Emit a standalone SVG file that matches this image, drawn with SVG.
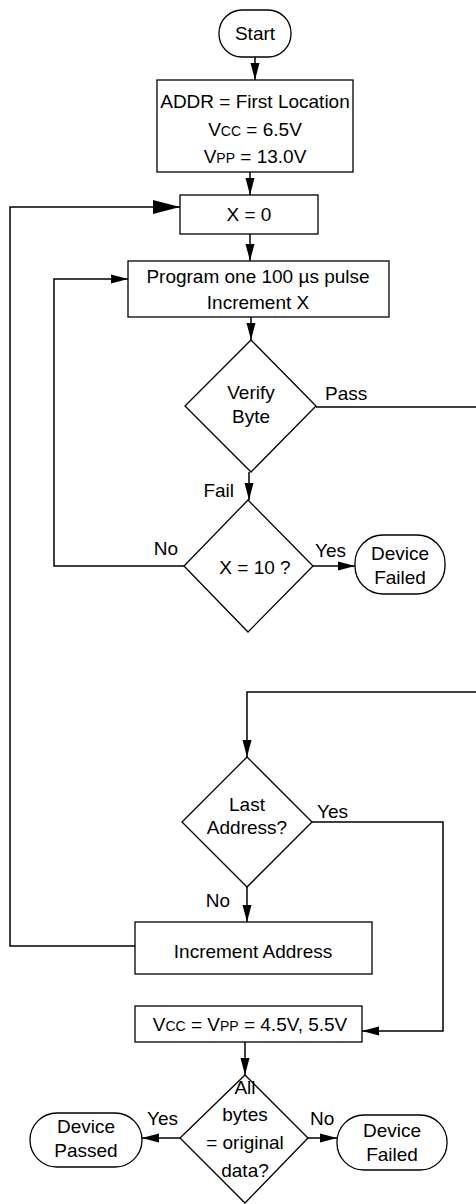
<svg xmlns="http://www.w3.org/2000/svg" width="476" height="1204" viewBox="0 0 476 1204">
<defs>
<style>
.s{fill:#fff;stroke:#000;stroke-width:1.3}
.c{fill:none;stroke:#000;stroke-width:1.5}
text{font-family:"Liberation Sans",Arial,sans-serif;font-size:19px;fill:#000}
.m{text-anchor:middle}
.e{text-anchor:end}
.sc{font-size:14px}
</style>
<marker id="a" markerUnits="userSpaceOnUse" markerWidth="18" markerHeight="10" refX="17" refY="5" orient="auto"><path d="M0,0.5 L17,5 L0,9.5 Z" fill="#000"/></marker>
<marker id="b" markerUnits="userSpaceOnUse" markerWidth="28" markerHeight="14" refX="27" refY="7" orient="auto"><path d="M0,0 L27,7 L0,14 Z" fill="#000"/></marker>
</defs>
<g id="connectors">
<path class="c" d="M255,57 V80" marker-end="url(#a)"/>
<path class="c" d="M250,172 V195" marker-end="url(#a)"/>
<path class="c" d="M250,234 V261" marker-end="url(#a)"/>
<path class="c" d="M251,317 V340" marker-end="url(#a)"/>
<path class="c" d="M316,407 H476"/>
<path class="c" d="M249,472 V500" marker-end="url(#a)"/>
<path class="c" d="M184,566 H54 V279 H128" marker-end="url(#a)"/>
<path class="c" d="M313,566 H355" marker-end="url(#a)"/>
<path class="c" d="M135,946 H10 V207 H180" marker-end="url(#b)"/>
<path class="c" d="M476,692 H247 V757" marker-end="url(#a)"/>
<path class="c" d="M312,822 H443 V1031 H362" marker-end="url(#a)"/>
<path class="c" d="M247,887 V922" marker-end="url(#a)"/>
<path class="c" d="M245,1042 V1075" marker-end="url(#a)"/>
<path class="c" d="M180,1138 H142" marker-end="url(#a)"/>
<path class="c" d="M308,1138 H337" marker-end="url(#a)"/>
<text x="325" y="400">Pass</text>
<text x="234" y="497" class="e">Fail</text>
<text x="178" y="555" class="e">No</text>
<text x="315" y="557">Yes</text>
<text x="317" y="818">Yes</text>
<text x="230" y="907" class="e">No</text>
<text x="178" y="1125" class="e">Yes</text>
<text x="310" y="1125">No</text>
</g>
<g id="start"><rect class="s" x="219" y="10" width="72" height="47" rx="23"/><text x="255" y="40" class="m">Start</text></g>
<g id="init"><rect class="s" x="157" y="80" width="196" height="92"/>
<text x="255" y="108" class="m">ADDR = First Location</text>
<text x="255" y="136" class="m">V<tspan class="sc">CC</tspan> = 6.5V</text>
<text x="255" y="163" class="m">V<tspan class="sc">PP</tspan> = 13.0V</text></g>
<g id="x0"><rect class="s" x="180" y="195" width="138" height="39"/><text x="249" y="221" class="m">X = 0</text></g>
<g id="program"><rect class="s" x="128" y="261" width="261" height="56"/>
<text x="258" y="283" class="m">Program one 100 µs pulse</text>
<text x="258" y="309" class="m">Increment X</text></g>
<g id="verify"><polygon class="s" points="251,340 316,406 251,472 185,406"/>
<text x="251" y="399" class="m">Verify</text><text x="251" y="423" class="m">Byte</text></g>
<g id="x10"><polygon class="s" points="248,500 313,566 248,632 184,566"/>
<text x="255" y="574" class="m">X = 10 ?</text></g>
<g id="failed1"><rect class="s" x="355" y="535" width="90" height="59" rx="28"/>
<text x="400" y="560" class="m">Device</text><text x="400" y="584" class="m">Failed</text></g>
<g id="last"><polygon class="s" points="247,757 312,822 247,887 182,822"/>
<text x="247" y="811" class="m">Last</text><text x="247" y="834" class="m">Address?</text></g>
<g id="incaddr"><rect class="s" x="135" y="922" width="237" height="52"/>
<text x="253" y="958" class="m">Increment Address</text></g>
<g id="vcc"><rect class="s" x="135" y="1006" width="227" height="36"/>
<text x="250" y="1031" class="m">V<tspan class="sc">CC</tspan> = V<tspan class="sc">PP</tspan> = 4.5V, 5.5V</text></g>
<g id="allbytes"><polygon class="s" points="245,1075 308,1138 245,1203 180,1138"/>
<text x="245" y="1094" class="m">All</text><text x="245" y="1121" class="m">bytes</text>
<text x="245" y="1149" class="m">= original</text><text x="245" y="1177" class="m">data?</text></g>
<g id="passed"><rect class="s" x="30" y="1113" width="112" height="54" rx="27"/>
<text x="86" y="1133" class="m">Device</text><text x="86" y="1157" class="m">Passed</text></g>
<g id="failed2"><rect class="s" x="337" y="1115" width="110" height="55" rx="27"/>
<text x="392" y="1137" class="m">Device</text><text x="392" y="1161" class="m">Failed</text></g>
</svg>
